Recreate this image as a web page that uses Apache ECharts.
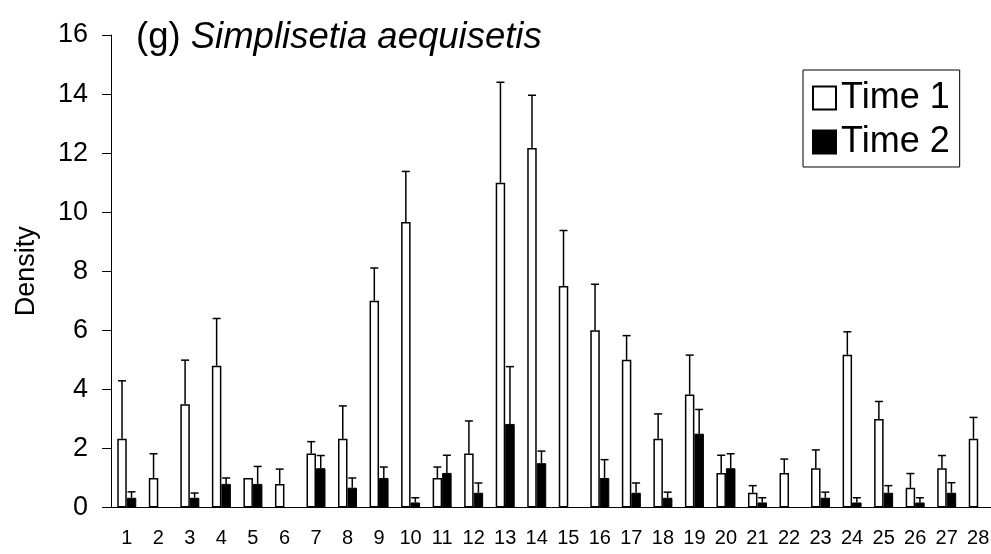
<!DOCTYPE html>
<html>
<head>
<meta charset="utf-8">
<script src="https://cdn.jsdelivr.net/npm/echarts@6/dist/echarts.min.js"></script>
<style>
  html, body { margin: 0; padding: 0; background: #fff; }
  #chart { width: 991px; height: 554px; }
</style>
</head>
<body>
<div id="chart"></div>
<script>
// sites 1..28
var sites = ['1','2','3','4','5','6','7','8','9','10','11','12','13','14',
             '15','16','17','18','19','20','21','22','23','24','25','26','27','28'];
// Time 1 mean density and its error (upper whisker length)
var time1 = [2.33, 1.0, 3.5, 4.8, 1.0, 0.8, 1.83, 2.33, 7.0, 9.67, 1.0, 1.83, 11.0, 12.17,
             7.5, 6.0, 5.0, 2.33, 3.83, 1.17, 0.5, 1.17, 1.33, 5.17, 3.0, 0.67, 1.33, 2.33];
var time1Err = [1.96, 0.82, 1.49, 1.6, 0, 0.5, 0.4, 1.11, 1.11, 1.71, 0.37, 1.1, 3.4, 1.79,
                1.88, 1.56, 0.82, 0.84, 1.33, 0.6, 0.24, 0.47, 0.62, 0.78, 0.59, 0.48, 0.43, 0.72];
// Time 2
var time2 = [0.33, 0, 0.33, 0.8, 0.8, 0, 1.33, 0.67, 1.0, 0.17, 1.17, 0.5, 2.83, 1.5,
             0, 1.0, 0.5, 0.33, 2.5, 1.33, 0.17, 0, 0.33, 0.17, 0.5, 0.17, 0.5, 0];
var time2Err = [0.2, 0, 0.16, 0.2, 0.59, 0, 0.43, 0.33, 0.37, 0.16, 0.6, 0.33, 1.94, 0.41,
                0, 0.62, 0.33, 0.19, 0.82, 0.49, 0.16, 0, 0.19, 0.16, 0.24, 0.16, 0.34, 0];
var yTicks = [0, 2, 4, 6, 8, 10, 12, 14, 16];

var FONT = '"Liberation Sans", Arial, sans-serif';
var BAR_W = 9.5;

// error whisker: line up from the bar top plus a small cap
function errRender(shift) {
  return function (params, api) {
    var i = api.value(0), m = api.value(1), e = api.value(2);
    if (!(e > 0)) return null;
    var p0 = api.coord([i, m]);
    var p1 = api.coord([i, m + e]);
    var x = p0[0] + shift;
    return {
      type: 'group',
      children: [
        { type: 'line', shape: { x1: x, y1: p0[1], x2: x, y2: p1[1] },
          style: { stroke: '#000', lineWidth: 1.5 } },
        { type: 'line', shape: { x1: x - 4, y1: p1[1], x2: x + 4, y2: p1[1] },
          style: { stroke: '#000', lineWidth: 1.5 } }
      ]
    };
  };
}

var chart = echarts.init(document.getElementById('chart'));
chart.setOption({
  animation: false,
  title: {
    text: '(g) {i|Simplisetia aequisetis}',
    left: 131, top: 14,
    textStyle: {
      fontFamily: FONT, fontSize: 36.5, fontWeight: 'normal', color: '#000',
      rich: { i: { fontFamily: FONT, fontSize: 36.5, fontStyle: 'italic', color: '#000' } }
    }
  },
  legend: {
    orient: 'vertical',
    left: 803, top: 70,
    data: ['Time 1', 'Time 2'],
    icon: 'rect',
    itemWidth: 23, itemHeight: 23, itemGap: 8,
    padding: [10, 10, 7, 9],
    borderColor: '#000', borderWidth: 1,
    textStyle: { fontFamily: FONT, fontSize: 36, color: '#000' }
  },
  grid: { left: 111, right: -3, top: 35, bottom: 46.5, outerBoundsMode: 'none' },
  xAxis: {
    type: 'category',
    data: sites,
    axisLine: { lineStyle: { color: '#000', width: 1 } },
    axisTick: { length: 6, lineStyle: { color: '#000' } },
    axisLabel: { fontFamily: FONT, fontSize: 20, color: '#000', margin: 21, interval: 0 }
  },
  yAxis: {
    type: 'value',
    min: yTicks[0], max: yTicks[yTicks.length - 1], interval: 2,
    name: 'Density',
    nameLocation: 'middle', nameRotate: 90, nameGap: 71,
    nameTextStyle: { fontFamily: FONT, fontSize: 27, color: '#000' },
    axisLine: { show: true, lineStyle: { color: '#000', width: 1 } },
    axisTick: { show: true, length: 9, lineStyle: { color: '#000' } },
    axisLabel: { fontFamily: FONT, fontSize: 27, color: '#000', margin: 23 },
    splitLine: { show: false }
  },
  series: [
    {
      name: 'Time 1', type: 'bar', data: time1,
      barWidth: BAR_W, barGap: '0%',
      itemStyle: { color: '#fff', borderColor: '#000', borderWidth: 1.5 }
    },
    {
      name: 'Time 2', type: 'bar', data: time2,
      barWidth: BAR_W, barGap: '0%',
      itemStyle: { color: '#000', borderColor: '#000', borderWidth: 1 }
    },
    {
      type: 'custom', renderItem: errRender(-BAR_W / 2), z: 3,
      data: time1.map(function (v, i) { return [i, v, time1Err[i]]; })
    },
    {
      type: 'custom', renderItem: errRender(BAR_W / 2), z: 3,
      data: time2.map(function (v, i) { return [i, v, time2Err[i]]; })
    }
  ]
});
</script>
</body>
</html>
